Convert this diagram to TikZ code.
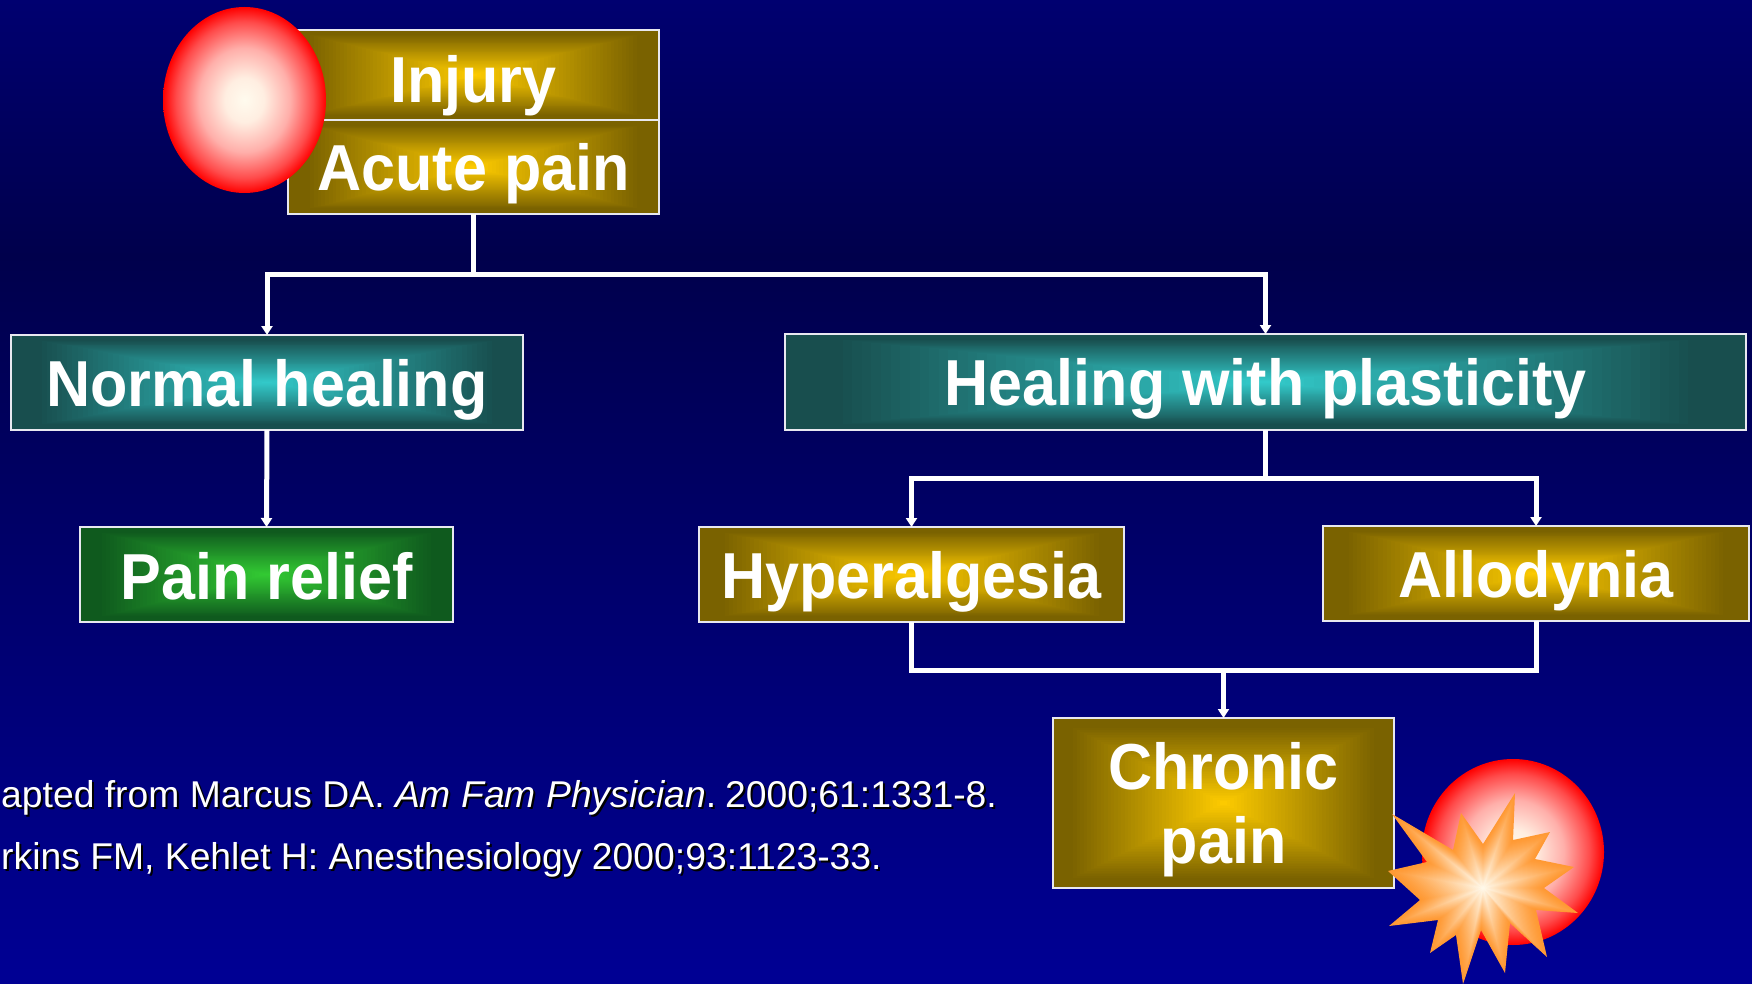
\documentclass[tikz,border=0pt]{standalone}
\usepackage{fontspec}
\setmainfont[BoldFeatures={FakeStretch=0.94}]{Liberation Sans}
\usetikzlibrary{calc,arrows.meta,shapes.geometric}
\definecolor{goldE}{RGB}{122,98,0}
\definecolor{goldC}{RGB}{255,204,0}
\definecolor{tealE}{RGB}{24,78,78}
\definecolor{tealC}{RGB}{51,204,204}
\definecolor{grnE}{RGB}{15,90,30}
\definecolor{grnC}{RGB}{51,204,51}
\definecolor{bgT}{RGB}{0,0,112}
\definecolor{bgM}{RGB}{0,0,76}
\definecolor{bgB}{RGB}{0,0,148}
\definecolor{starE}{RGB}{255,153,51}
\definecolor{cream}{RGB}{255,251,238}
\definecolor{rim}{RGB}{232,232,240}
\definecolor{ballA}{RGB}{255,238,225}
\definecolor{ballB}{RGB}{255,175,170}
\definecolor{ballC}{RGB}{255,75,75}
\pgfdeclareverticalshading{bgshade}{100bp}{color(0bp)=(bgB); color(25bp)=(bgB); color(62bp)=(bgM); color(75bp)=(bgT); color(100bp)=(bgT)}
\pgfdeclareradialshading{ballshade}{\pgfpoint{0bp}{0bp}}{color(0bp)=(cream); color(6bp)=(ballA); color(14bp)=(ballB); color(21bp)=(ballC); color(25bp)=(red); color(50bp)=(red)}
\newcommand\boxgrad[2]{%
  \foreach \i in {0,...,50}{%
    \pgfmathsetmacro\tt{\i/50}\pgfmathsetmacro\pp{100*min(1,max(0,(\tt-0.1)/0.9))}\pgfmathsetmacro\ss{1-\tt}%
    \fill[#2!\pp!#1]
      ($(path picture bounding box.center)!\ss!(path picture bounding box.south west)$)
      rectangle
      ($(path picture bounding box.center)!\ss!(path picture bounding box.north east)$);}}
\newcommand\starline{(32,-95)--(30,-48)--(67,-56)--(52,-29)--(91,-21)--(61,0)--(95,25)--(53,22)--(64,69)--(27,35)--(22,85)--(-2,42)--(-20,96)--(-27,47)--(-53,65)--(-45,32)--(-94,38)--(-63,12)--(-95,-17)--(-56,-26)--(-91,-74)--(-30,-38)--(-22,-75)--(0,-44)--cycle}
\tikzset{
  bx/.style={draw=rim,line width=2pt,outer sep=0pt,inner sep=0pt,text=white,align=center,
    font=\bfseries\fontsize{65}{74}\selectfont},
  gold/.style={bx,path picture={\boxgrad{goldE}{goldC}}},
  teal/.style={bx,path picture={\boxgrad{tealE}{tealC}}},
  grn/.style={bx,path picture={\boxgrad{grnE}{grnC}}},
  wire/.style={draw=white,line width=5pt},
  wireA/.style={wire,-{Triangle[length=9pt,width=11pt,inset=0pt]}},
  ball/.style={ellipse,shading=ballshade,inner sep=0pt},
  cite/.style={anchor=base west,inner sep=0pt,font=\fontsize{37.3}{37.3}\selectfont,text=white},
  citesh/.style={cite,text=black}
}
\begin{document}
\begin{tikzpicture}[x=1pt,y=-1pt]
\useasboundingbox (0,0) rectangle (1752,984);
\clip (0,0) rectangle (1752,984);
\shade[shading=bgshade] (0,0) rectangle (1752,984);
% boxes
\node[gold,minimum width=371pt,minimum height=90pt,text height=56pt,text depth=0pt] (injury) at (473.5,75) {Injury};
\node[gold,minimum width=371pt,minimum height=94pt,text height=48pt,text depth=0pt] (acute) at (473.5,167) {Acute pain};
\node[teal,minimum width=512pt,minimum height=95pt,text height=48pt,text depth=0pt] (normal) at (267,382.5) {Normal healing};
\node[teal,minimum width=961pt,minimum height=96pt,text height=46pt,text depth=0pt] (plastic) at (1265.5,382) {Healing with plasticity};
\node[grn,minimum width=373pt,minimum height=95pt,text height=50pt,text depth=0pt] (relief) at (266.5,574.5) {Pain relief};
\node[gold,minimum width=425pt,minimum height=95pt,text height=48pt,text depth=0pt] (hyper) at (911.5,574.5) {Hyperalgesia};
\node[gold,minimum width=426pt,minimum height=95pt,text height=48pt,text depth=0pt] (allo) at (1536,573.5) {Allodynia};
\node[gold,minimum width=341pt,minimum height=170pt] (chronic) at (1223.5,803) {\raisebox{-60pt}[0pt][0pt]{\begin{tabular}[b]{@{}c@{}}Chronic\\pain\end{tabular}}};
% connectors
\coordinate (j1) at (473.5,274);
\coordinate (j2) at (1265.5,478);
\coordinate (j3) at (1223.5,670);
\draw[wire] (acute.south) -- (j1);
\draw[wireA] (j1) -| (normal.north);
\draw[wireA] (j1) -| (plastic.north);
\draw[wireA] (normal.south) -- (relief.north);
\draw[wire] (plastic.south) -- (j2);
\draw[wireA] (j2) -| (hyper.north);
\draw[wireA] (j2) -| (allo.north);
\draw[wire,line join=miter] (hyper.south) |- (j3);
\draw[wire,line join=miter] (allo.south) |- (j3);
\draw[wireA] (j3) -- (chronic.north);
% balls
\node[ball,minimum width=163pt,minimum height=186pt] (b1) at (244.5,100) {};
\node[ball,minimum width=182pt,minimum height=186pt] (b2) at (1513,852) {};
% star
\begin{scope}[shift={(1483,888)}]
\foreach \i in {0,...,40}{
  \pgfmathsetmacro\ss{1-\i/40}\pgfmathsetmacro\pp{100*(\i/40)^1.2}
  \fill[cream!\pp!starE,scale=\ss] \starline;
}
\end{scope}
% citations
\node[citesh] (c1s) at (3,809) {apted from Marcus DA. \textit{Am Fam Physician}.\hspace{-5pt} 2000;61:1331-8.};
\node[cite] (c1) at (1,807) {apted from Marcus DA. \textit{Am Fam Physician}.\hspace{-5pt} 2000;61:1331-8.};
\node[citesh] (c2s) at (3,871) {rkins FM, Kehlet H: Anesthesiology 2000;93:1123-33.};
\node[cite] (c2) at (1,869) {rkins FM, Kehlet H: Anesthesiology 2000;93:1123-33.};
\end{tikzpicture}
\end{document}
